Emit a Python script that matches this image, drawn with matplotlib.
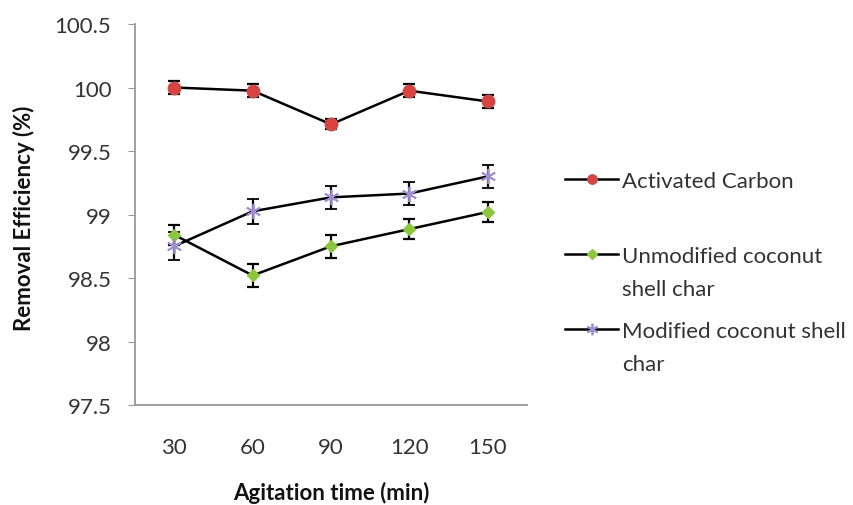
import matplotlib.pyplot as plt
from matplotlib.lines import Line2D
import numpy as np

plt.rcParams['font.family'] = ['Lato', 'DejaVu Sans']

times = ['30', '60', '90', '120', '150']
activated = [100.0, 99.975, 99.71, 99.975, 99.89]
activated_err = [0.05, 0.05, 0.04, 0.05, 0.05]
unmodified = [98.84, 98.52, 98.75, 98.885, 99.02]
unmodified_err = [0.08, 0.09, 0.09, 0.08, 0.08]
modified = [98.75, 99.025, 99.135, 99.165, 99.30]
modified_err = [0.11, 0.10, 0.09, 0.09, 0.09]
# legend labels: first line in the legend, the rest wrapped underneath
series_names = [['Activated Carbon'],
                ['Unmodified coconut', 'shell char'],
                ['Modified coconut shell', 'char']]

W, H = 854, 506
fig = plt.figure(figsize=(W / 100, H / 100), dpi=100)
ax = fig.add_axes([135 / W, (H - 406) / H, (527 - 135) / W, (406 - 25) / H])

xs = np.arange(len(times))
err_kw = dict(ecolor='black', elinewidth=1.6, capsize=4, capthick=1.6)
styles = [
    dict(marker='o', ms=9, mfc='#d9423f', mec='#c0504d'),
    dict(marker='D', ms=6.5, mfc='#8cc63f', mec='#8cc63f'),
    dict(marker=(6, 2, 0), ms=11, mfc='none', mec='#9f8fd0', mew=1.3),
]
for vals, errs, st in zip([activated, unmodified, modified],
                          [activated_err, unmodified_err, modified_err], styles):
    ax.errorbar(xs, vals, yerr=errs, color='black', lw=1.8, **st, **err_kw)

ax.set_xlim(-0.5, len(times) - 0.5)
ax.set_ylim(97.5, 100.5)
ax.set_xticks(xs)
ax.set_xticklabels(times)
ax.set_yticks(np.arange(97.5, 100.51, 0.5))
ax.set_yticklabels(['97.5', '98', '98.5', '99', '99.5', '100', '100.5'])

for s in ['top', 'right']:
    ax.spines[s].set_visible(False)
for s in ['left', 'bottom']:
    ax.spines[s].set_color('#999999')
    ax.spines[s].set_linewidth(1.3)
ax.tick_params(axis='y', length=5, color='#999999', labelsize=16, labelcolor='#333333', pad=12)
ax.tick_params(axis='x', length=0, labelsize=16, labelcolor='#333333', pad=23)

ax.set_ylabel('Removal Efficiency (%)', fontsize=16, fontweight='bold', color='#111111')
ax.yaxis.set_label_coords(-0.255, 0.493)
ax.set_xlabel('Agitation time (min)', fontsize=16, fontweight='bold', color='#111111')
ax.xaxis.set_label_coords(0.5, -0.198)

handles = [Line2D([], [], color='black', lw=1.8, **st) for st in styles]
leg = fig.legend(handles, [n[0] for n in series_names], loc='upper left',
                 bbox_to_anchor=(565 / W, 1 - 172 / H), frameon=False, fontsize=16,
                 handlelength=2.4, handletextpad=0.15, borderpad=0, borderaxespad=0,
                 labelspacing=2.48, labelcolor='#333333', markerscale=0.75)

# continuation lines of the wrapped legend labels
fig.canvas.draw()
for txt, name in zip(leg.get_texts(), series_names):
    bb = txt.get_window_extent()
    for k, extra in enumerate(name[1:], start=1):
        fig.text(bb.x0 / W, (bb.y0 + bb.y1) / 2 / H - 33 * k / H, extra,
                 fontsize=16, color='#333333', va='center', ha='left')

fig.savefig('out.png', dpi=100)
